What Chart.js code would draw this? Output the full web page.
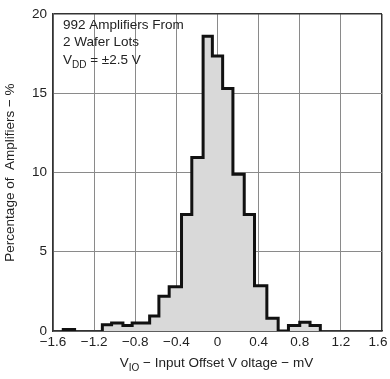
<!DOCTYPE html>
<html>
<head>
<meta charset="utf-8">
<script src="https://cdn.jsdelivr.net/npm/chart.js@4.4.1/dist/chart.umd.min.js"></script>
<style>
  body { margin: 0; background: #fff; }
  canvas { display: block; }
</style>
</head>
<body>
<canvas id="hist-chart" width="390" height="379"></canvas>
<script>
// bin edges (mV) and percentage of amplifiers in each bin
var binEdges = [-1.12, -1.03, -0.92, -0.83, -0.745, -0.66, -0.57, -0.47, -0.35, -0.25, -0.14,
                -0.05, 0.05, 0.15, 0.26, 0.36, 0.48, 0.59, 0.69, 0.80, 0.90, 1.00];
var binPercent = [0.4, 0.5, 0.35, 0.5, 0.5, 0.95, 2.2, 2.8, 7.35, 10.95, 18.6,
                  17.35, 15.3, 9.9, 7.35, 2.85, 0.8, 0, 0.35, 0.55, 0.35];
// lone outlier bin on the far left
var outlierEdges = [-1.5, -1.39];
var outlierPercent = [0.1];

var xTickValues = [-1.6, -1.2, -0.8, -0.4, 0, 0.4, 0.8, 1.2, 1.6];
var yTickValues = [0, 5, 10, 15, 20];

var FONT = "'Liberation Sans', Arial, sans-serif";
var TEXT = '#222';

// turn edges + heights into points for a stepped line
function stepPoints(edges, pct) {
    var pts = [{ x: edges[0], y: 0 }];
    for (var i = 0; i < pct.length; i++) {
        pts.push({ x: edges[i], y: pct[i] });
    }
    pts.push({ x: edges[edges.length - 1], y: 0 });
    return pts;
}

function fmtTick(v) {
    if (Math.abs(v) < 1e-9) return '0';
    return (v < 0 ? '\u2212' : '') + Math.abs(v).toFixed(1);
}

// draws runs of normal / subscript text
function drawRuns(ctx, runs, x, y, align) {
    var size = 13.5, subSize = 10;
    var total = 0;
    runs.forEach(function (r) {
        ctx.font = (r.sub ? subSize : size) + 'px ' + FONT;
        r.w = ctx.measureText(r.t).width;
        total += r.w;
    });
    var cx = align === 'center' ? x - total / 2 : x;
    runs.forEach(function (r) {
        ctx.font = (r.sub ? subSize : size) + 'px ' + FONT;
        ctx.fillText(r.t, cx, y + (r.sub ? 3.5 : 0));
        cx += r.w;
    });
}

var textPlugin = {
    id: 'textPlugin',
    beforeDraw: function (chart) {
        // nudge the last x label so it stays inside the canvas
        var items = chart.scales.x.getLabelItems();
        var last = items[items.length - 1];
        if (last && !last._moved) {
            last.options.translation[0] -= 4;
            last._moved = true;
        }
    },
    afterDraw: function (chart) {
        var ctx = chart.ctx;
        var area = chart.chartArea;
        ctx.save();
        ctx.fillStyle = TEXT;
        ctx.textAlign = 'left';
        ctx.textBaseline = 'alphabetic';

        // x axis title
        drawRuns(ctx, [
            { t: 'V' }, { t: 'IO', sub: true },
            { t: ' \u2212 Input Offset V oltage \u2212 mV' }
        ], (area.left + area.right) / 2 - 1, 367, 'center');

        // y axis title
        ctx.save();
        ctx.translate(14, (area.top + area.bottom) / 2);
        ctx.rotate(-Math.PI / 2);
        drawRuns(ctx, [{ t: 'Percentage of  Amplifiers \u2212 %' }], 0, 0, 'center');
        ctx.restore();

        // note in the top-left corner
        var nx = area.left + 10;
        drawRuns(ctx, [{ t: '992 Amplifiers From' }], nx, 29, 'left');
        drawRuns(ctx, [{ t: '2 Wafer Lots' }], nx, 46, 'left');
        drawRuns(ctx, [{ t: 'V' }, { t: 'DD', sub: true }, { t: ' = \u00b12.5 V' }], nx, 64, 'left');
        ctx.restore();
    }
};

var ctx1 = document.getElementById('hist-chart');
var histChart = new Chart(ctx1.getContext('2d'), {
    type: 'line',
    data: {
        datasets: [{
            data: stepPoints(binEdges, binPercent),
            stepped: true,
            fill: 'origin',
            backgroundColor: '#d9d9d9',
            borderColor: '#111',
            borderWidth: 3,
            borderJoinStyle: 'miter',
            pointRadius: 0
        }, {
            data: stepPoints(outlierEdges, outlierPercent),
            stepped: true,
            fill: 'origin',
            backgroundColor: '#d9d9d9',
            borderColor: '#111',
            borderWidth: 3,
            borderJoinStyle: 'miter',
            pointRadius: 0
        }]
    },
    options: {
        responsive: false,
        animation: false,
        layout: { padding: { left: 0, right: 8, top: 5, bottom: 0 } },
        plugins: {
            legend: { display: false },
            tooltip: { enabled: false }
        },
        scales: {
            x: {
                type: 'linear',
                min: -1.6,
                max: 1.6,
                afterBuildTicks: function (scale) {
                    scale.ticks = xTickValues.map(function (v) { return { value: v }; });
                },
                afterFit: function (scale) {
                    scale.height = 48;
                    scale.paddingLeft = 0;
                    scale.paddingRight = 0;
                },
                grid: {
                    drawTicks: false,
                    color: function (c) {
                        return (c.tick && c.tick.value >= 1.6) ? '#333' : '#8a8a8a';
                    },
                    lineWidth: function (c) {
                        return (c.tick && c.tick.value >= 1.6) ? 1.5 : 1;
                    }
                },
                border: { color: '#333', width: 1.5 },
                ticks: {
                    color: TEXT,
                    padding: 3,
                    maxRotation: 0,
                    font: { family: FONT, size: 13.5 },
                    callback: function (v) { return fmtTick(v); }
                }
            },
            y: {
                min: 0,
                max: 20,
                afterBuildTicks: function (scale) {
                    scale.ticks = yTickValues.map(function (v) { return { value: v }; });
                },
                afterFit: function (scale) {
                    scale.width = 53;
                },
                grid: {
                    drawTicks: false,
                    color: function (c) {
                        return (c.tick && c.tick.value >= 20) ? '#333' : '#8a8a8a';
                    },
                    lineWidth: function (c) {
                        return (c.tick && c.tick.value >= 20) ? 1.5 : 1;
                    }
                },
                border: { color: '#333', width: 1.5 },
                ticks: {
                    color: TEXT,
                    padding: 6,
                    font: { family: FONT, size: 13.5 }
                }
            }
        }
    },
    plugins: [textPlugin]
});
</script>
</body>
</html>
